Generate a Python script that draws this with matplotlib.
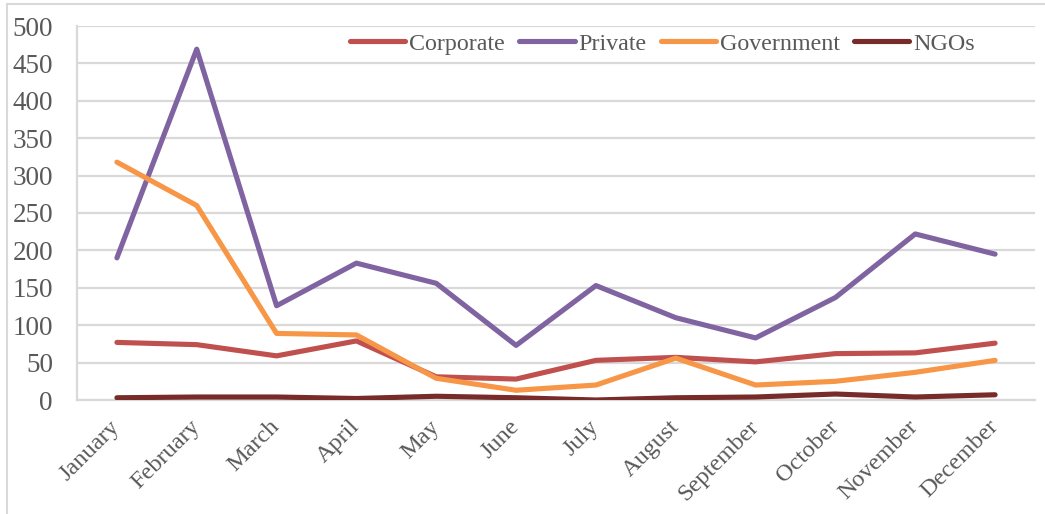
import matplotlib
matplotlib.use("Agg")
import matplotlib.pyplot as plt
from matplotlib.lines import Line2D
from matplotlib.transforms import ScaledTranslation

plt.rcParams['font.family'] = ['Liberation Serif', 'DejaVu Serif']

months = ["January", "February", "March", "April", "May", "June", "July",
          "August", "September", "October", "November", "December"]
corporate = [77, 74, 59, 79, 31, 28, 53, 57, 51, 62, 63, 76]
private = [190, 469, 126, 183, 156, 73, 153, 110, 83, 137, 222, 195]
government = [318, 260, 89, 87, 29, 13, 20, 56, 20, 25, 37, 53]
ngos = [3, 4, 4, 2, 5, 3, 0, 3, 4, 8, 4, 7]
y_ticks = [0, 50, 100, 150, 200, 250, 300, 350, 400, 450, 500]

series = [
    ("Corporate", corporate, "#C0504D"),
    ("Private", private, "#8064A2"),
    ("Government", government, "#F79646"),
    ("NGOs", ngos, "#772C2A"),
]

W, H = 1045, 514
fig = plt.figure(figsize=(W / 100, H / 100), dpi=100)
ax = fig.add_axes([77 / W, (H - 400) / H, (1035 - 77) / W, (400 - 26) / H])

grid_c = "#D9D9D9"
text_c = "#595959"

x = list(range(len(months)))
for name, vals, col in series:
    ax.plot(x, vals, color=col, lw=3.7, solid_capstyle="round",
            solid_joinstyle="round", label=name, zorder=3)

ax.set_xlim(-0.5, len(months) - 0.5)
ax.set_ylim(0, 500)
ax.set_yticks(y_ticks)
ax.set_yticklabels([str(v) for v in y_ticks])
ax.set_xticks(x)
ax.set_xticklabels(months, rotation=45, ha="right", va="center",
                   rotation_mode="anchor", fontsize=17.5)
shift = ScaledTranslation(4 / 100, -2 / 100, fig.dpi_scale_trans)
for lbl in ax.get_xticklabels():
    lbl.set_transform(lbl.get_transform() + shift)

ax.yaxis.grid(True, color=grid_c, lw=1.6, zorder=0)
ax.set_axisbelow(True)
for s in ["top", "right"]:
    ax.spines[s].set_visible(False)
for s in ["left", "bottom"]:
    ax.spines[s].set_color(grid_c)
    ax.spines[s].set_linewidth(1.6)
ax.tick_params(axis="both", length=0, colors=text_c)
ax.tick_params(axis="y", pad=17.3, labelsize=19.5)
ax.tick_params(axis="x", pad=17)

handles = [Line2D([], [], color=c, lw=3.7, solid_capstyle="round") for _, _, c in series]
leg = ax.legend(handles, [n for n, _, _ in series], loc="center",
                bbox_to_anchor=(0.611, 0.952), ncol=4, frameon=False,
                fontsize=17.3, handlelength=2.3, handletextpad=0.15,
                columnspacing=0.6, borderaxespad=0)
for t in leg.get_texts():
    t.set_color(text_c)

# outer chart frame (top and left edges)
fig.add_artist(Line2D([7 / W, 7 / W], [0, (H - 4) / H], color=grid_c, lw=1.5,
                      transform=fig.transFigure))
fig.add_artist(Line2D([7 / W, 1], [(H - 4) / H, (H - 4) / H], color=grid_c, lw=1.5,
                      transform=fig.transFigure))

fig.savefig("out.png", dpi=100)
